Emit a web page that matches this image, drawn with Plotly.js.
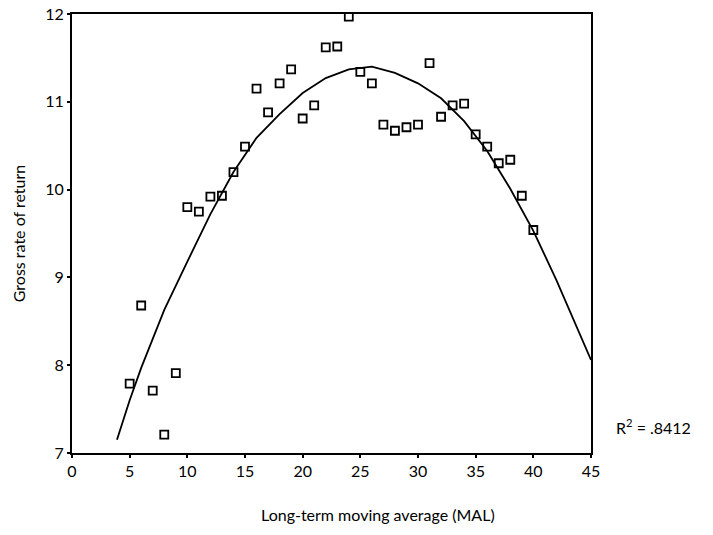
<!DOCTYPE html>
<html>
<head>
<meta charset="utf-8">
<script src="https://cdn.plot.ly/plotly-3.0.1.min.js"></script>
<style>
  html, body { margin: 0; padding: 0; background: #fff; }
  #chart { width: 713px; height: 535px; }
</style>
</head>
<body>
<div id="chart"></div>
<script>
// Observed gross rate of return for each long-term moving average length
const malLength = [5, 6, 7, 8, 9, 10, 11, 12, 13, 14, 15, 16, 17, 18, 19, 20, 21, 22,
                   23, 24, 25, 26, 27, 28, 29, 30, 31, 32, 33, 34, 35, 36, 37, 38, 39, 40];
const grossReturn = [7.79, 8.68, 7.71, 7.21, 7.91, 9.80, 9.75, 9.92, 9.93, 10.20, 10.49, 11.15,
                     10.88, 11.21, 11.37, 10.81, 10.96, 11.62, 11.63, 11.97, 11.34, 11.21,
                     10.74, 10.67, 10.71, 10.74, 11.44, 10.83, 10.96, 10.98, 10.63, 10.49,
                     10.30, 10.34, 9.93, 9.54];

// Fitted trend line
const fitX = [3.9, 5, 6, 8, 10, 12, 14, 16, 18, 20, 22, 24, 26, 28, 30, 32, 34, 36, 38, 40, 42, 44, 45];
const fitY = [7.15, 7.60, 7.97, 8.63, 9.18, 9.72, 10.20, 10.59, 10.86, 11.10, 11.27, 11.37, 11.40,
              11.33, 11.21, 11.04, 10.78, 10.44, 10.01, 9.53, 8.97, 8.35, 8.06];

const xTicks = [0, 5, 10, 15, 20, 25, 30, 35, 40, 45];
const yTicks = [7, 8, 9, 10, 11, 12];
const rSquared = '.8412';

const font = 'Lato, "DejaVu Sans", sans-serif';

const traces = [
  {
    x: fitX, y: fitY, type: 'scatter', mode: 'lines',
    line: { color: '#000', width: 1.8 },
    hoverinfo: 'skip', showlegend: false
  },
  {
    x: malLength, y: grossReturn, type: 'scatter', mode: 'markers',
    marker: { symbol: 'square-open', size: 8, color: '#000', line: { width: 1.8, color: '#000' } },
    showlegend: false
  }
];

const layout = {
  width: 713, height: 535,
  margin: { l: 72, r: 122, t: 14, b: 82 },
  paper_bgcolor: '#fff', plot_bgcolor: '#fff',
  font: { family: font, size: 16, color: '#000' },
  xaxis: {
    range: [0, 45], tickvals: xTicks, ticktext: xTicks.map(String),
    showgrid: false, zeroline: false,
    showline: true, mirror: true, linecolor: '#000', linewidth: 2,
    ticks: 'outside', ticklen: 3, tickwidth: 2, tickcolor: '#000',
    tickfont: { size: 16, family: font }
  },
  yaxis: {
    range: [7, 12], tickvals: yTicks, ticktext: yTicks.map(String),
    showgrid: false, zeroline: false,
    showline: true, mirror: true, linecolor: '#000', linewidth: 2,
    ticks: 'outside', ticklen: 3, tickwidth: 2, tickcolor: '#000',
    tickfont: { size: 16, family: font },
    title: { text: 'Gross rate of return', font: { size: 16, family: font }, standoff: 16 }
  },
  annotations: [
    {
      xref: 'paper', yref: 'paper', x: 0.59, y: -0.115, yanchor: 'top', xanchor: 'center',
      text: 'Long-term moving average (MAL)', showarrow: false,
      font: { size: 16, family: font }
    },
    {
      xref: 'paper', yref: 'y', x: 1.045, y: 7.3, xanchor: 'left', yanchor: 'middle',
      text: 'R<sup>2</sup> = ' + rSquared, showarrow: false,
      font: { size: 16, family: font }
    }
  ]
};

Plotly.newPlot('chart', traces, layout, { displayModeBar: false, staticPlot: true });
</script>
</body>
</html>
